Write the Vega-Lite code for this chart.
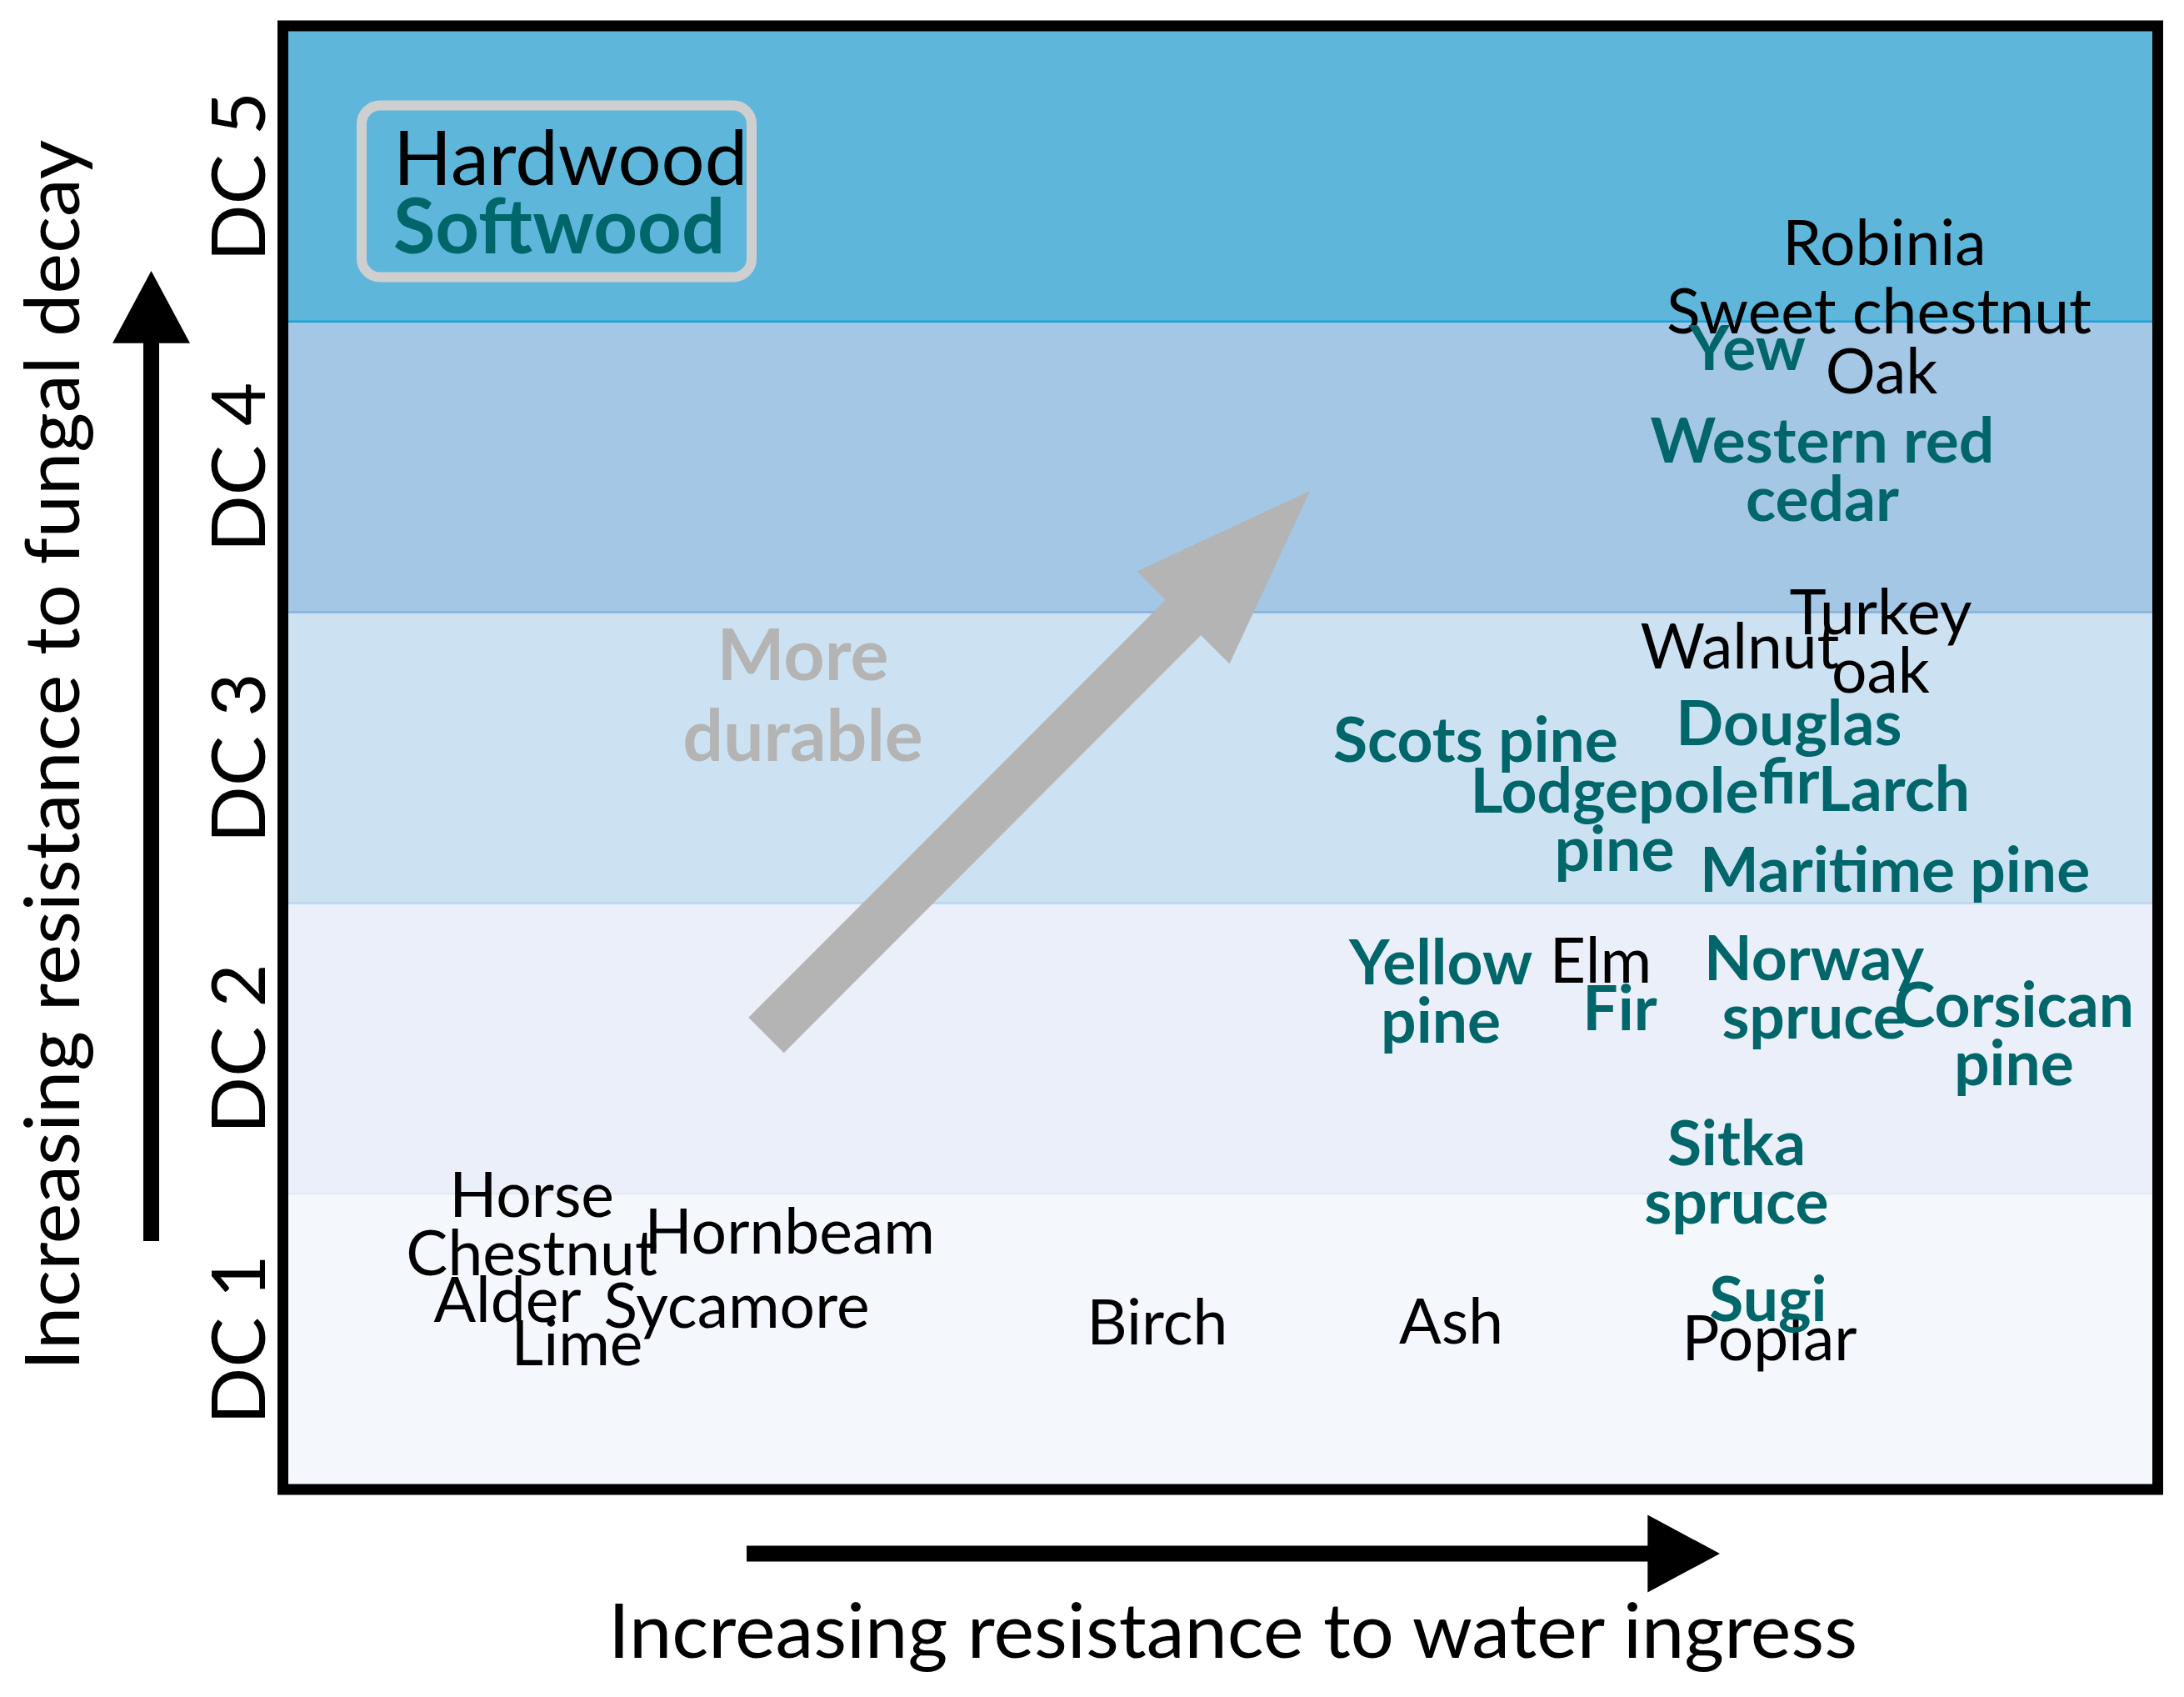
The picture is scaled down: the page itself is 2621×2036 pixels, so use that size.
{
  "$schema": "https://vega.github.io/schema/vega-lite/v6.json",
  "width": 2250,
  "height": 1756,
  "autosize": {"type": "none"},
  "padding": {"left": 339.5, "top": 31, "right": 31.5, "bottom": 249},
  "background": "white",
  "config": {
    "view": {"stroke": null},
    "font": "Lato",
    "axis": {"grid": false, "ticks": false, "tickSize": 0, "domain": false},
    "axisX": {"labels": false}
  },
  "datasets": {
    "bands": [
      {"dc": 1, "lo": 0.5, "hi": 1.5},
      {"dc": 2, "lo": 1.5, "hi": 2.5},
      {"dc": 3, "lo": 2.5, "hi": 3.5},
      {"dc": 4, "lo": 3.5, "hi": 4.5},
      {"dc": 5, "lo": 4.5, "hi": 5.5}
    ],
    "boundaries": [
      {"boundary": "DC1/DC2", "at": 1.5},
      {"boundary": "DC2/DC3", "at": 2.5},
      {"boundary": "DC3/DC4", "at": 3.5},
      {"boundary": "DC4/DC5", "at": 4.5}
    ],
    "legendbox": [{"x1": 4.2, "x2": 25.0, "y1": 4.6528, "y2": 5.2434}],
    "legend": [
      {"label": "Hardwood", "type": "Hardwood", "water": 5.89, "decay": 4.9696},
      {"label": "Softwood", "type": "Softwood", "water": 5.89, "decay": 4.7345}
    ],
    "arrows": [
      {"arrow": "fungal decay", "x1": -7.022, "y1": 1.337, "x2": -7.022, "y2": 4.4306},
      {"arrow": "water ingress", "x1": 24.733, "y1": 0.262, "x2": 72.867, "y2": 0.262},
      {"arrow": "more durable", "x1": 25.778, "y1": 2.0453, "x2": 48.089, "y2": 3.4859}
    ],
    "note": [{"label": "More\ndurable", "water": 27.73, "decay": 3.2675}],
    "species": [
      {"label": "Robinia", "type": "Hardwood", "water": 85.42, "decay": 4.694},
      {"label": "Sweet chestnut", "type": "Hardwood", "water": 85.13, "decay": 4.459},
      {"label": "Oak", "type": "Hardwood", "water": 85.27, "decay": 4.253},
      {"label": "Turkey\noak", "type": "Hardwood", "water": 85.22, "decay": 3.4255},
      {"label": "Walnut", "type": "Hardwood", "water": 77.71, "decay": 3.3068},
      {"label": "Elm", "type": "Hardwood", "water": 70.29, "decay": 2.2271},
      {"label": "Horse\nChestnut", "type": "Hardwood", "water": 13.27, "decay": 1.4203},
      {"label": "Hornbeam", "type": "Hardwood", "water": 27.03, "decay": 1.2941},
      {"label": "Alder", "type": "Hardwood", "water": 11.98, "decay": 1.059},
      {"label": "Sycamore", "type": "Hardwood", "water": 24.2, "decay": 1.039},
      {"label": "Lime", "type": "Hardwood", "water": 15.69, "decay": 0.91},
      {"label": "Birch", "type": "Hardwood", "water": 46.64, "decay": 0.9816},
      {"label": "Ash", "type": "Hardwood", "water": 62.31, "decay": 0.9845},
      {"label": "Poplar", "type": "Hardwood", "water": 79.29, "decay": 0.9283},
      {"label": "Yew", "type": "Softwood", "water": 78.11, "decay": 4.3331},
      {"label": "Western red\ncedar", "type": "Softwood", "water": 82.11, "decay": 4.0149},
      {"label": "Douglas\nfir", "type": "Softwood", "water": 80.33, "decay": 3.043},
      {"label": "Larch", "type": "Softwood", "water": 85.93, "decay": 2.8165},
      {"label": "Scots pine", "type": "Softwood", "water": 63.62, "decay": 2.9857},
      {"label": "Lodgepole\npine", "type": "Softwood", "water": 71.02, "decay": 2.8122},
      {"label": "Maritime pine", "type": "Softwood", "water": 85.98, "decay": 2.5384},
      {"label": "Yellow\npine", "type": "Softwood", "water": 61.76, "decay": 2.2202},
      {"label": "Fir", "type": "Softwood", "water": 71.31, "decay": 2.0625},
      {"label": "Norway\nspruce", "type": "Softwood", "water": 81.67, "decay": 2.2331},
      {"label": "Corsican\npine", "type": "Softwood", "water": 92.33, "decay": 2.0728},
      {"label": "Sitka\nspruce", "type": "Softwood", "water": 77.53, "decay": 1.5986},
      {"label": "Sugi", "type": "Softwood", "water": 79.22, "decay": 1.0628}
    ]
  },
  "layer": [
    {
      "data": {"name": "bands"},
      "mark": {"type": "rect", "strokeWidth": 0},
      "encoding": {
        "x": {"datum": 0, "type": "quantitative", "scale": {"domain": [0, 100], "nice": false, "zero": false},
          "axis": {"title": "Increasing resistance to water ingress", "labels": false, "ticks": false, "tickSize": 0, "domain": false, "grid": false,
            "titleFont": "Lato", "titleFontSize": 92, "titleFontWeight": "normal", "titleColor": "black", "titleLimit": 3000,
            "titleX": 1139.5, "titleY": 201, "titleAlign": "center", "titleBaseline": "alphabetic", "titleAngle": 0}},
        "x2": {"datum": 100},
        "y": {"field": "lo", "type": "quantitative", "scale": {"domain": [0.4828, 5.5172], "nice": false, "zero": false},
          "axis": {"title": "Increasing resistance to fungal decay", "values": [1, 2, 3, 4, 5], "labelExpr": "'DC ' + datum.value",
            "labelAngle": 270, "labelAlign": "center", "labelBaseline": "alphabetic", "labelPadding": 22.5, "labelLimit": 1000,
            "labelFont": "Lato", "labelFontSize": 90, "labelColor": "black", "labelOverlap": false, "labelFlush": false,
            "ticks": false, "tickSize": 0, "domain": false, "grid": false,
            "titleFont": "Lato", "titleFontSize": 92, "titleFontWeight": "normal", "titleColor": "black", "titleLimit": 3000,
            "titleAngle": 270, "titleX": -245.5, "titleY": 874.5, "titleAlign": "center", "titleBaseline": "alphabetic"}},
        "y2": {"field": "hi"},
        "fill": {"field": "dc", "type": "nominal", "legend": null,
          "scale": {"domain": [1, 2, 3, 4, 5], "range": ["#f4f8fd", "#eaeff9", "#cce2f2", "#a3c7e4", "#5fb6db"]}}
      }
    },
    {
      "data": {"name": "boundaries"},
      "mark": {"type": "rule", "strokeWidth": 2.5},
      "encoding": {
        "x": {"datum": 0, "type": "quantitative", "scale": {"domain": [0, 100], "nice": false, "zero": false}},
        "x2": {"datum": 100},
        "y": {"field": "at", "type": "quantitative", "scale": {"domain": [0.4828, 5.5172], "nice": false, "zero": false}},
        "stroke": {"field": "boundary", "type": "nominal", "legend": null,
          "scale": {"domain": ["DC1/DC2", "DC2/DC3", "DC3/DC4", "DC4/DC5"], "range": ["#e3eaf6", "#b9d6ee", "#84b3dc", "#1ba1d8"]}}
      }
    },
    {
      "data": {"name": "legendbox"},
      "mark": {"type": "rect", "fill": "#ffffff", "fillOpacity": 0, "stroke": "#cfcfcf", "strokeWidth": 12, "cornerRadius": 22},
      "encoding": {
        "x": {"field": "x1", "type": "quantitative", "scale": {"domain": [0, 100], "nice": false, "zero": false}},
        "x2": {"field": "x2"},
        "y": {"field": "y1", "type": "quantitative", "scale": {"domain": [0.4828, 5.5172], "nice": false, "zero": false}},
        "y2": {"field": "y2"}
      }
    },
    {
      "data": {"name": "legend"},
      "transform": [{"filter": "datum.type === 'Hardwood'"}],
      "mark": {"type": "text", "font": "Lato", "fontSize": 92, "fontWeight": "normal", "align": "left", "baseline": "alphabetic"},
      "encoding": {
        "x": {"field": "water", "type": "quantitative", "scale": {"domain": [0, 100], "nice": false, "zero": false}},
        "y": {"field": "decay", "type": "quantitative", "scale": {"domain": [0.4828, 5.5172], "nice": false, "zero": false}},
        "text": {"field": "label"},
        "color": {"field": "type", "type": "nominal", "legend": null, "scale": {"domain": ["Hardwood", "Softwood"], "range": ["#000000", "#00666a"]}}
      }
    },
    {
      "data": {"name": "legend"},
      "transform": [{"filter": "datum.type === 'Softwood'"}],
      "mark": {"type": "text", "font": "Lato", "fontSize": 92, "fontWeight": "bold", "align": "left", "baseline": "alphabetic"},
      "encoding": {
        "x": {"field": "water", "type": "quantitative", "scale": {"domain": [0, 100], "nice": false, "zero": false}},
        "y": {"field": "decay", "type": "quantitative", "scale": {"domain": [0.4828, 5.5172], "nice": false, "zero": false}},
        "text": {"field": "label"},
        "color": {"field": "type", "type": "nominal", "legend": null, "scale": {"domain": ["Hardwood", "Softwood"], "range": ["#000000", "#00666a"]}}
      }
    },
    {
      "data": {"name": "arrows"},
      "transform": [{"filter": "datum.arrow === 'more durable'"}],
      "mark": {"type": "rule", "strokeWidth": 60, "strokeCap": "butt", "color": "#b4b4b4"},
      "encoding": {
        "x": {"field": "x1", "type": "quantitative", "scale": {"domain": [0, 100], "nice": false, "zero": false}},
        "x2": {"field": "x2"},
        "y": {"field": "y1", "type": "quantitative", "scale": {"domain": [0.4828, 5.5172], "nice": false, "zero": false}},
        "y2": {"field": "y2"}
      }
    },
    {
      "data": {"name": "arrows"},
      "transform": [{"filter": "datum.arrow === 'more durable'"}],
      "mark": {"type": "point", "shape": "M0,-2L0.737,0.02L-0.737,0.02Z", "size": 45369, "angle": 45, "filled": true, "opacity": 1, "color": "#b4b4b4", "strokeWidth": 0},
      "encoding": {
        "x": {"field": "x2", "type": "quantitative", "scale": {"domain": [0, 100], "nice": false, "zero": false}},
        "y": {"field": "y2", "type": "quantitative", "scale": {"domain": [0.4828, 5.5172], "nice": false, "zero": false}}
      }
    },
    {
      "data": {"name": "note"},
      "mark": {"type": "text", "font": "Lato", "fontSize": 86, "fontWeight": "bold", "align": "center", "baseline": "alphabetic", "lineBreak": "\n", "lineHeight": 97, "color": "#b4b4b4"},
      "encoding": {
        "x": {"field": "water", "type": "quantitative", "scale": {"domain": [0, 100], "nice": false, "zero": false}},
        "y": {"field": "decay", "type": "quantitative", "scale": {"domain": [0.4828, 5.5172], "nice": false, "zero": false}},
        "text": {"field": "label"}
      }
    },
    {
      "data": {"name": "species"},
      "transform": [{"filter": "datum.type === 'Hardwood'"}],
      "mark": {"type": "text", "font": "Lato", "fontSize": 75, "fontWeight": "normal", "align": "center", "baseline": "alphabetic", "lineBreak": "\n", "lineHeight": 70},
      "encoding": {
        "x": {"field": "water", "type": "quantitative", "scale": {"domain": [0, 100], "nice": false, "zero": false}},
        "y": {"field": "decay", "type": "quantitative", "scale": {"domain": [0.4828, 5.5172], "nice": false, "zero": false}},
        "text": {"field": "label"},
        "color": {"field": "type", "type": "nominal", "legend": null, "scale": {"domain": ["Hardwood", "Softwood"], "range": ["#000000", "#00666a"]}}
      }
    },
    {
      "data": {"name": "species"},
      "transform": [{"filter": "datum.type === 'Softwood'"}],
      "mark": {"type": "text", "font": "Lato", "fontSize": 75, "fontWeight": "bold", "align": "center", "baseline": "alphabetic", "lineBreak": "\n", "lineHeight": 70},
      "encoding": {
        "x": {"field": "water", "type": "quantitative", "scale": {"domain": [0, 100], "nice": false, "zero": false}},
        "y": {"field": "decay", "type": "quantitative", "scale": {"domain": [0.4828, 5.5172], "nice": false, "zero": false}},
        "text": {"field": "label"},
        "color": {"field": "type", "type": "nominal", "legend": null, "scale": {"domain": ["Hardwood", "Softwood"], "range": ["#000000", "#00666a"]}}
      }
    },
    {
      "data": {"name": "arrows"},
      "transform": [{"filter": "datum.arrow !== 'more durable'"}],
      "mark": {"type": "rule", "strokeWidth": 19, "strokeCap": "butt", "color": "black"},
      "encoding": {
        "x": {"field": "x1", "type": "quantitative", "scale": {"domain": [0, 100], "nice": false, "zero": false}},
        "x2": {"field": "x2"},
        "y": {"field": "y1", "type": "quantitative", "scale": {"domain": [0.4828, 5.5172], "nice": false, "zero": false}},
        "y2": {"field": "y2"}
      }
    },
    {
      "data": {"name": "arrows"},
      "transform": [{"filter": "datum.arrow === 'fungal decay'"}],
      "mark": {"type": "point", "shape": "M0,-2L1.094,0.04L-1.094,0.04Z", "size": 7225, "angle": 0, "filled": true, "opacity": 1, "color": "black", "strokeWidth": 0},
      "encoding": {
        "x": {"field": "x2", "type": "quantitative", "scale": {"domain": [0, 100], "nice": false, "zero": false}},
        "y": {"field": "y2", "type": "quantitative", "scale": {"domain": [0.4828, 5.5172], "nice": false, "zero": false}}
      }
    },
    {
      "data": {"name": "arrows"},
      "transform": [{"filter": "datum.arrow === 'water ingress'"}],
      "mark": {"type": "point", "shape": "M0,-2L1.094,0.04L-1.094,0.04Z", "size": 7225, "angle": 90, "filled": true, "opacity": 1, "color": "black", "strokeWidth": 0},
      "encoding": {
        "x": {"field": "x2", "type": "quantitative", "scale": {"domain": [0, 100], "nice": false, "zero": false}},
        "y": {"field": "y2", "type": "quantitative", "scale": {"domain": [0.4828, 5.5172], "nice": false, "zero": false}}
      }
    },
    {
      "data": {"values": [{"frame": "plot area"}]},
      "mark": {"type": "rect", "fill": "#ffffff", "fillOpacity": 0, "stroke": "black", "strokeWidth": 13},
      "encoding": {
        "x": {"datum": 0, "type": "quantitative", "scale": {"domain": [0, 100], "nice": false, "zero": false}},
        "x2": {"datum": 100},
        "y": {"datum": 0.4828, "type": "quantitative", "scale": {"domain": [0.4828, 5.5172], "nice": false, "zero": false}},
        "y2": {"datum": 5.5172}
      }
    }
  ]
}
